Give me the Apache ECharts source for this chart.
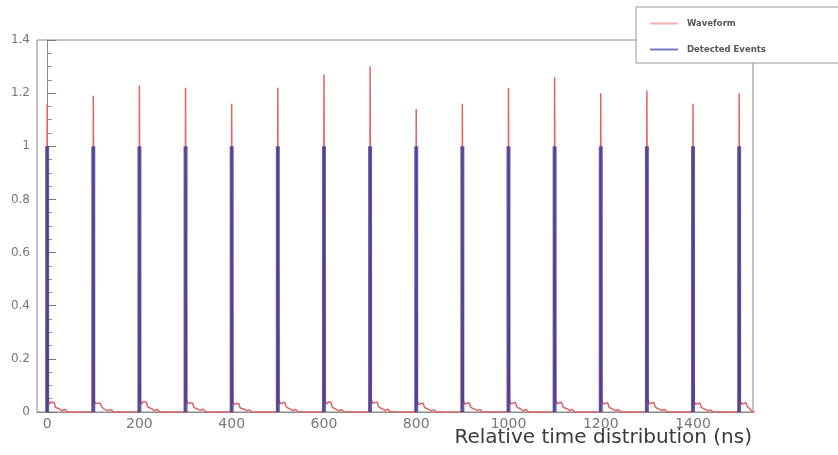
<!DOCTYPE html>
<html>
<head>
<meta charset="utf-8">
<script src="https://cdn.jsdelivr.net/npm/echarts@6/dist/echarts.min.js"></script>
<style>
  html, body { margin: 0; padding: 0; background: #fff; }
  #chart { width: 838px; height: 455px; }
</style>
</head>
<body>
<div id="chart"></div>
<script>
// Pulse start times (ns) and the peak amplitude of each waveform pulse
var pulseTimes = [0, 100, 200, 300, 400, 500, 600, 700, 800, 900, 1000, 1100, 1200, 1300, 1400, 1500];
var peakValues = [1.16, 1.19, 1.23, 1.22, 1.16, 1.22, 1.27, 1.30, 1.14, 1.16, 1.22, 1.26, 1.20, 1.21, 1.16, 1.20];

// Each pulse's afterglow: offsets (ns after the peak) and the level at each offset
var tailOffsets = [2, 5, 9, 15, 18, 23, 28, 33, 38, 44];
var tailLevels = [
  [0.045, 0.030, 0.038, 0.036, 0.018, 0.014, 0.010, 0.004, 0.010, 0.000],
  [0.042, 0.032, 0.036, 0.034, 0.020, 0.012, 0.008, 0.005, 0.009, 0.000],
  [0.046, 0.031, 0.040, 0.037, 0.019, 0.015, 0.011, 0.004, 0.010, 0.000],
  [0.044, 0.033, 0.037, 0.035, 0.018, 0.013, 0.009, 0.006, 0.011, 0.000],
  [0.040, 0.029, 0.035, 0.033, 0.017, 0.012, 0.010, 0.004, 0.008, 0.000],
  [0.047, 0.032, 0.039, 0.036, 0.020, 0.014, 0.010, 0.005, 0.010, 0.000],
  [0.045, 0.030, 0.038, 0.037, 0.019, 0.013, 0.009, 0.004, 0.009, 0.000],
  [0.048, 0.033, 0.040, 0.038, 0.021, 0.015, 0.011, 0.005, 0.011, 0.000],
  [0.041, 0.028, 0.035, 0.034, 0.018, 0.012, 0.009, 0.004, 0.008, 0.000],
  [0.043, 0.030, 0.036, 0.035, 0.018, 0.013, 0.010, 0.005, 0.009, 0.000],
  [0.045, 0.031, 0.038, 0.036, 0.019, 0.014, 0.010, 0.004, 0.010, 0.000],
  [0.046, 0.032, 0.039, 0.037, 0.020, 0.014, 0.011, 0.005, 0.010, 0.000],
  [0.044, 0.030, 0.037, 0.035, 0.018, 0.013, 0.009, 0.004, 0.009, 0.000],
  [0.045, 0.031, 0.038, 0.036, 0.019, 0.013, 0.010, 0.005, 0.010, 0.000],
  [0.042, 0.029, 0.036, 0.034, 0.018, 0.012, 0.009, 0.004, 0.008, 0.000],
  [0.044, 0.030, 0.037, 0.035, 0.019, 0.013, 0.000, 0.000, 0.000, 0.000]
];

// Detected events: one histogram bin of height 1 at each pulse
var eventTimes = [0, 100, 200, 300, 400, 500, 600, 700, 800, 900, 1000, 1100, 1200, 1300, 1400, 1500];
var eventValues = [1, 1, 1, 1, 1, 1, 1, 1, 1, 1, 1, 1, 1, 1, 1, 1];

// Axis tick labels
var xTickValues = [0, 200, 400, 600, 800, 1000, 1200, 1400];
var xAxisTitle = 'Relative time distribution (ns)';
var seriesNames = ['Waveform', 'Detected Events'];

// Assemble the waveform polyline from the pulse tables
var waveform = [];
for (var i = 0; i < pulseTimes.length; i++) {
  var t0 = pulseTimes[i];
  waveform.push([t0 - 1, 0]);
  waveform.push([t0, peakValues[i]]);
  for (var k = 0; k < tailOffsets.length; k++) {
    waveform.push([t0 + tailOffsets[k], tailLevels[i][k]]);
  }
}
var events = eventTimes.map(function (t, i) { return [t, eventValues[i]]; });

var FONT = '"DejaVu Sans", Verdana, sans-serif';

var chart = echarts.init(document.getElementById('chart'), null, { renderer: 'canvas' });
chart.setOption({
  animation: false,
  backgroundColor: '#ffffff',
  grid: {
    left: 37, top: 40, right: 85, bottom: 43,
    show: true, borderColor: '#8a8a8a', borderWidth: 1, backgroundColor: 'transparent'
  },
  legend: {
    orient: 'vertical',
    left: 636, top: 7,
    padding: [12, 80, 9, 14],
    itemGap: 17,
    itemWidth: 28, itemHeight: 2,
    icon: 'rect',
    backgroundColor: '#ffffff',
    borderColor: '#999999', borderWidth: 1,
    textStyle: { fontFamily: FONT, fontSize: 8.5, color: '#555', fontWeight: 'bold', padding: [0, 0, 0, 4] },
    data: [
      { name: seriesNames[0], itemStyle: { color: '#f2b0b0' } },
      { name: seriesNames[1], itemStyle: { color: '#7878c8' } }
    ]
  },
  xAxis: {
    type: 'value',
    min: -22, max: 1530,
    axisLine: { show: true, onZero: false, lineStyle: { color: '#8a8a8a' } },
    axisTick: { show: false },
    splitLine: { show: false },
    axisLabel: {
      customValues: xTickValues,
      fontFamily: FONT, fontSize: 14, color: '#777', margin: 5,
      formatter: function (v) { return String(v); }
    }
  },
  yAxis: {
    type: 'value',
    min: 0, max: 1.4, interval: 0.2,
    axisLine: { show: true, lineStyle: { color: '#8a8a8a' } },
    axisTick: { show: true, inside: true, length: 9, lineStyle: { color: '#777' } },
    minorTick: { show: true, splitNumber: 4, length: 5, lineStyle: { color: '#999' } },
    splitLine: { show: false },
    axisLabel: {
      fontFamily: FONT, fontSize: 12, color: '#777', margin: 7,
      formatter: function (v) { return String(Math.round(v * 10) / 10); }
    }
  },
  graphic: [{
    type: 'text',
    right: 86, top: 428,
    style: { text: xAxisTitle, font: '20px ' + FONT, fill: '#3a3a3a' }
  }],
  series: [
    {
      name: seriesNames[0],
      type: 'line',
      data: waveform,
      symbol: 'none',
      z: 2,
      lineStyle: { color: '#e26464', width: 1.5 },
      itemStyle: { color: '#f2b0b0' }
    },
    {
      name: seriesNames[1],
      type: 'bar',
      data: events,
      barWidth: 4,
      z: 3,
      itemStyle: { color: 'rgba(55, 50, 150, 0.78)' }
    }
  ]
});
</script>
</body>
</html>
